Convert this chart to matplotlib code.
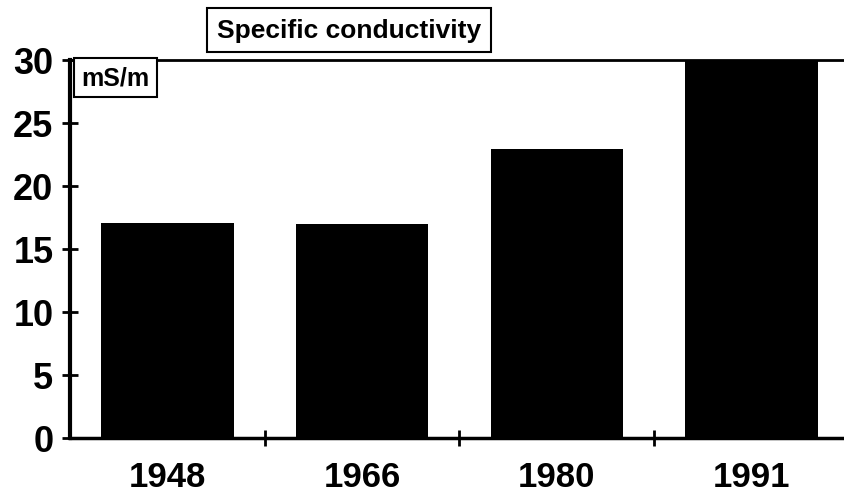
import matplotlib.pyplot as plt
from matplotlib.ticker import FixedLocator

years = ['1948', '1966', '1980', '1991']
conductivity = [17.1, 17.0, 22.9, 29.9]  # mS/m

fig = plt.figure(figsize=(8.44, 5.02), dpi=100)
ax = fig.add_axes([0.083, 0.1255, 0.917, 0.753])

ax.bar(range(len(years)), conductivity, width=0.68, color='black', zorder=1)

ax.set_xlim(-0.5, 3.475)
ax.set_ylim(0, 30)

# spines
ax.spines['right'].set_visible(False)
ax.spines['left'].set_linewidth(3)
ax.spines['bottom'].set_linewidth(2.5)
ax.spines['top'].set_linewidth(2)

# y ticks
ax.set_yticks(range(0, 31, 5))
ax.tick_params(axis='y', direction='inout', length=12, width=2, pad=6,
               labelsize=26)
for t in ax.get_yticklabels():
    t.set_fontfamily('Liberation Sans')
    t.set_fontweight('bold')

# x ticks: labels at bars, marks between categories
ax.set_xticks(range(len(years)))
ax.set_xticklabels(years)
ax.tick_params(axis='x', which='major', length=0, pad=16, labelsize=25)
ax.xaxis.set_minor_locator(FixedLocator([0.5, 1.5, 2.5]))
ax.tick_params(axis='x', which='minor', direction='inout', length=12, width=2)
for t in ax.get_xticklabels():
    t.set_fontfamily('Liberation Sans')
    t.set_fontweight('bold')

# title box
fig.text(0.257, 0.938, 'Specific conductivity', fontsize=19, fontweight='bold',
         family='Liberation Sans', va='center', ha='left',
         bbox=dict(boxstyle='square,pad=0.38', fc='white', ec='black', lw=1.5))

# unit box
ax.text(0.015, 0.985, 'mS/m', transform=ax.transAxes, fontsize=18,
        fontweight='bold', family='Liberation Sans', va='top', ha='left',
        bbox=dict(boxstyle='square,pad=0.3', fc='white', ec='black', lw=1.5),
        zorder=5)

fig.savefig('out.png', dpi=100)
